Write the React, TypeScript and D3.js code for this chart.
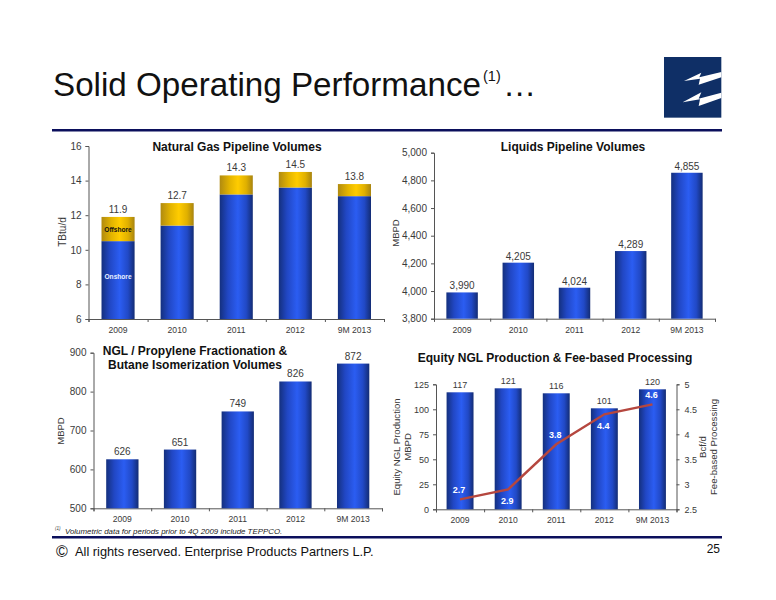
import { useEffect, useRef } from 'react';
import * as d3 from 'd3';

const FONT = '"Liberation Sans", Arial, sans-serif';
const INK = '#3a3a3a';
const NAVY = '#0b0f5c';

const YEARS = ['2009', '2010', '2011', '2012', '9M 2013'];

const GAS_ONSHORE = [10.5, 11.4, 13.2, 13.6, 13.1];
const GAS_OFFSHORE = [1.4, 1.3, 1.1, 0.9, 0.7];
const GAS_TOTAL = [11.9, 12.7, 14.3, 14.5, 13.8];
const GAS_TICKS = [6, 8, 10, 12, 14, 16];

const LIQUIDS = [3990, 4205, 4024, 4289, 4855];
const LIQUIDS_TICKS = [3800, 4000, 4200, 4400, 4600, 4800, 5000];

const FRAC = [626, 651, 749, 826, 872];
const FRAC_TICKS = [500, 600, 700, 800, 900];

const EQUITY_NGL = [117, 121, 116, 101, 120];
const EQUITY_TICKS = [0, 25, 50, 75, 100, 125];
const FEE_BASED = [2.7, 2.9, 3.8, 4.4, 4.6];
const FEE_TICKS = [2.5, 3, 3.5, 4, 4.5, 5];

type Sel = d3.Selection<SVGGElement, unknown, null, undefined>;

function label(g: Sel, x: number, y: number, s: string, size = 10, extra: Record<string, string> = {}) {
  const t = g
    .append('text')
    .attr('x', x)
    .attr('y', y)
    .attr('text-anchor', 'middle')
    .attr('font-size', size)
    .attr('fill', INK)
    .text(s);
  Object.entries(extra).forEach(([k, v]) => t.attr(k, v));
  return t;
}

function vertical(g: Sel, x: number, y: number, s: string, size = 10) {
  label(g, 0, 0, s, size).attr('transform', `translate(${x},${y}) rotate(-90)`);
}

// frame shared by all four panels: y axis on the left, category ticks between bars
function frame(
  g: Sel,
  box: { left: number; right: number; top: number; bottom: number; padding: number; labelY: number; tickSize: number },
  domain: [number, number],
  ticks: number[],
  format: (v: number) => string,
) {
  const x = d3.scaleBand<string>().domain(YEARS).range([box.left, box.right]).paddingInner(box.padding).paddingOuter(box.padding / 2);
  const y = d3.scaleLinear().domain(domain).range([box.bottom, box.top]);
  const slots = d3.scaleLinear().domain([0, YEARS.length]).range([box.left, box.right]);

  const yAxis = g.append('g').attr('transform', `translate(${box.left},0)`)
    .call(d3.axisLeft(y).tickValues(ticks).tickFormat((v) => format(v as number)).tickSize(3).tickPadding(4));
  const xAxis = g.append('g').attr('transform', `translate(0,${box.bottom})`)
    .call(d3.axisBottom(slots).tickValues(d3.range(YEARS.length + 1)).tickFormat(() => '').tickSize(3));

  [yAxis, xAxis].forEach((a) => {
    a.selectAll('path,line').attr('stroke', '#555').attr('stroke-width', 1);
    a.selectAll('text').attr('font-family', FONT).attr('font-size', box.tickSize).attr('fill', INK);
  });

  YEARS.forEach((yr) => label(g, x(yr)! + x.bandwidth() / 2, box.labelY, yr, 8.6));
  return { x, y };
}

function bars(
  g: Sel,
  x: d3.ScaleBand<string>,
  y: d3.ScaleLinear<number, number>,
  values: number[],
  base: number,
) {
  g.append('g')
    .selectAll('rect')
    .data(values)
    .join('rect')
    .attr('x', (_, i) => x(YEARS[i])!)
    .attr('width', x.bandwidth())
    .attr('y', (d) => y(d))
    .attr('height', (d) => y(base) - y(d))
    .attr('fill', 'url(#blueBar)');
}

function valueLabels(
  g: Sel,
  x: d3.ScaleBand<string>,
  y: d3.ScaleLinear<number, number>,
  values: number[],
  text: (i: number) => string,
  size = 10,
  gap = 4,
) {
  values.forEach((v, i) => label(g, x(YEARS[i])! + x.bandwidth() / 2, y(v) - gap, text(i), size));
}

export default function App() {
  const ref = useRef<SVGSVGElement>(null);

  useEffect(() => {
    if (!ref.current) return;
    const svg = d3.select(ref.current);
    svg.selectAll('*').remove();

    const defs = svg.append('defs');
    const gradient = (id: string, stops: [number, string][]) => {
      const lg = defs.append('linearGradient').attr('id', id).attr('x1', 0).attr('x2', 1).attr('y1', 0).attr('y2', 0);
      stops.forEach(([o, c]) => lg.append('stop').attr('offset', o).attr('stop-color', c));
    };
    gradient('blueBar', [[0, '#14307e'], [0.25, '#2147c4'], [0.55, '#2b5df2'], [0.8, '#2149c6'], [1, '#132c74']]);
    gradient('goldBar', [[0, '#b08a10'], [0.3, '#e3b400'], [0.55, '#ffcc00'], [0.8, '#e0b000'], [1, '#a88410']]);

    const root = svg.append('g').attr('font-family', FONT) as unknown as Sel;

    // slide header
    label(root, 53, 96, 'Solid Operating Performance', 33.2, { 'text-anchor': 'start', fill: '#111' });
    label(root, 483, 80.5, '(1)', 14.5, { 'text-anchor': 'start', fill: '#111' });
    label(root, 503, 96, '…', 33.2, { 'text-anchor': 'start', fill: '#111' });
    root.append('rect').attr('x', 52).attr('y', 129).attr('width', 670).attr('height', 2.5).attr('fill', NAVY);

    const logo = root.append('g').attr('transform', 'translate(640,40) scale(0.3333)');
    logo.append('rect').attr('x', 72).attr('y', 51).attr('width', 172).attr('height', 182).attr('fill', '#0f2f66');
    logo.append('path').attr('fill', '#fff').attr('d', 'M132,123 L184,98 L178,112 L244,96 L244,112 L176,134 L180,116 Z');
    logo.append('path').attr('fill', '#fff').attr('d', 'M128,187 L184,157 L176,176 L244,158 L244,174 L176,198 L180,178 Z');

    // natural gas, stacked
    {
      const g = root.append('g') as unknown as Sel;
      const { x, y } = frame(g, { left: 88.5, right: 384, top: 146, bottom: 319, padding: 0.44, labelY: 333, tickSize: 10 }, [6, 16], GAS_TICKS, d3.format('d'));
      const rows = YEARS.map((yr, i) => ({ yr, onshore: GAS_ONSHORE[i], offshore: GAS_OFFSHORE[i] }));
      const layers = d3.stack<{ yr: string; onshore: number; offshore: number }>().keys(['onshore', 'offshore'])(rows);
      layers.forEach((layer, li) => {
        g.append('g')
          .selectAll('rect')
          .data(layer)
          .join('rect')
          .attr('x', (d) => x(d.data.yr)!)
          .attr('width', x.bandwidth())
          .attr('y', (d) => y(d[1]))
          .attr('height', (d) => y(Math.max(d[0], 6)) - y(d[1]))
          .attr('fill', li === 0 ? 'url(#blueBar)' : 'url(#goldBar)');
      });
      valueLabels(g, x, y, GAS_TOTAL, (i) => d3.format('.1f')(GAS_TOTAL[i]));
      const cx = x(YEARS[0])! + x.bandwidth() / 2;
      label(g, cx, 231.5, 'Offshore', 6.6, { 'font-weight': 'bold', fill: '#111' });
      label(g, cx, 279, 'Onshore', 6.6, { 'font-weight': 'bold', fill: '#e8f0ff' });
      vertical(g, 66, 232, 'TBtu/d');
      label(g, 237, 151, 'Natural Gas Pipeline Volumes', 12, { 'font-weight': 'bold', fill: '#111' });
    }

    // liquids
    {
      const g = root.append('g') as unknown as Sel;
      const { x, y } = frame(g, { left: 434, right: 715, top: 152.7, bottom: 318.7, padding: 0.44, labelY: 333, tickSize: 10 }, [3800, 5000], LIQUIDS_TICKS, d3.format(','));
      bars(g, x, y, LIQUIDS, 3800);
      valueLabels(g, x, y, LIQUIDS, (i) => d3.format(',')(LIQUIDS[i]), 10, 3);
      vertical(g, 399, 233, 'MBPD', 9.5);
      label(g, 573, 151, 'Liquids Pipeline Volumes', 12, { 'font-weight': 'bold', fill: '#111' });
    }

    // fractionation
    {
      const g = root.append('g') as unknown as Sel;
      const { x, y } = frame(g, { left: 93.5, right: 382, top: 352.7, bottom: 508.3, padding: 0.44, labelY: 522, tickSize: 10 }, [500, 900], FRAC_TICKS, d3.format('d'));
      bars(g, x, y, FRAC, 500);
      valueLabels(g, x, y, FRAC, (i) => String(FRAC[i]));
      vertical(g, 64, 431, 'MBPD', 9.5);
      label(g, 195, 355, 'NGL / Propylene Fractionation &', 12, { 'font-weight': 'bold', fill: '#111' });
      label(g, 195, 369, 'Butane Isomerization Volumes', 12, { 'font-weight': 'bold', fill: '#111' });
    }

    // equity NGL bars with the fee-based line on the right axis
    {
      const g = root.append('g') as unknown as Sel;
      const box = { left: 436, right: 676.5, top: 384.3, bottom: 509.3, padding: 0.44, labelY: 523, tickSize: 9 };
      const { x, y } = frame(g, box, [0, 125], EQUITY_TICKS, d3.format('d'));
      bars(g, x, y, EQUITY_NGL, 0);
      valueLabels(g, x, y, EQUITY_NGL, (i) => String(EQUITY_NGL[i]), 9);

      const yRight = d3.scaleLinear().domain([2.5, 5]).range([box.bottom, box.top]);
      const right = g.append('g').attr('transform', `translate(${box.right},0)`)
        .call(d3.axisRight(yRight).tickValues(FEE_TICKS).tickFormat((v) => String(v)).tickSize(3).tickPadding(5));
      right.selectAll('path,line').attr('stroke', '#555');
      right.selectAll('text').attr('font-family', FONT).attr('font-size', 9).attr('fill', INK);

      const cx = (i: number) => x(YEARS[i])! + x.bandwidth() / 2;
      const line = d3.line<number>().x((_, i) => cx(i)).y((d) => yRight(d));
      g.append('path').attr('d', line(FEE_BASED)).attr('fill', 'none').attr('stroke', '#b5473f').attr('stroke-width', 2.4);
      const below = [false, true, false, true, false];
      FEE_BASED.forEach((v, i) => {
        label(g, cx(i) - 1, yRight(v) + (below[i] ? 15 : -6), d3.format('.1f')(v), 9, { 'font-weight': 'bold', fill: '#fff' });
      });

      vertical(g, 400, 447, 'Equity NGL Production', 9.6);
      vertical(g, 411, 447, 'MBPD', 9.6);
      vertical(g, 706, 447, 'Bcf/d', 9.6);
      vertical(g, 717, 447, 'Fee-based Processing', 9.6);
      label(g, 555, 362, 'Equity NGL Production & Fee-based Processing', 12, { 'font-weight': 'bold', fill: '#111' });
    }

    // footer
    label(root, 55, 530, '(1)', 4.5, { 'text-anchor': 'start', 'font-style': 'italic' });
    label(root, 65, 534, 'Volumetric data for periods prior to 4Q 2009 include TEPPCO.', 7.9, { 'text-anchor': 'start', 'font-style': 'italic', fill: '#222' });
    root.append('rect').attr('x', 52).attr('y', 536).attr('width', 670).attr('height', 2.5).attr('fill', NAVY);
    label(root, 56, 556.5, '©', 16, { 'text-anchor': 'start', fill: '#111' });
    label(root, 75, 556, 'All rights reserved. Enterprise Products Partners L.P.', 12.8, { 'text-anchor': 'start', fill: '#111' });
    label(root, 720, 553, '25', 12, { 'text-anchor': 'end', fill: '#111' });
  }, []);

  return (
    <svg
      ref={ref}
      width={776}
      height={600}
      style={{ position: 'absolute', left: 0, top: 0, background: '#fff' }}
    />
  );
}
